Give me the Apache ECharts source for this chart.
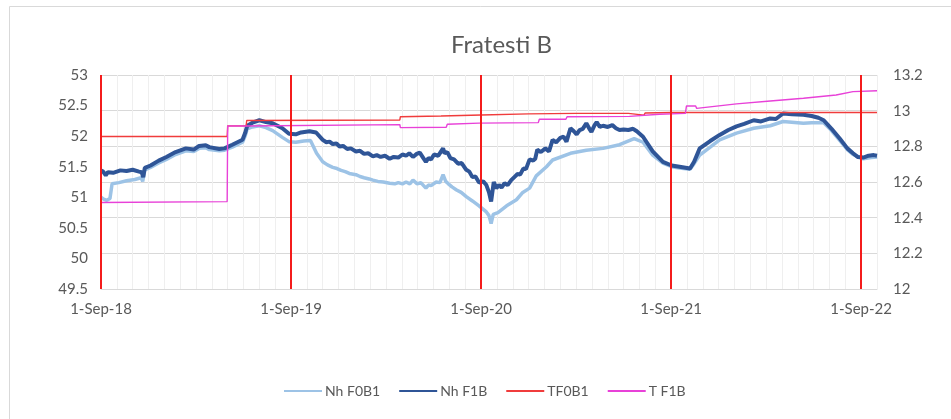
<!DOCTYPE html>
<html>
<head>
<meta charset="utf-8">
<title>Fratesti B</title>
<script src="https://cdn.jsdelivr.net/npm/echarts@6/dist/echarts.min.js"></script>
<style>
  html, body { margin: 0; padding: 0; background: #fff; }
  #chart { width: 951px; height: 419px; }
</style>
</head>
<body>
<div id="chart"></div>
<script>
// Level readings (left axis) and temperatures (right axis), by date
const nhF0B1 = [
  ['2018-09-01', 51.00], ['2018-09-06', 50.97], ['2018-09-12', 50.95], ['2018-09-18', 50.98],
  ['2018-09-22', 51.22], ['2018-10-05', 51.24], ['2018-10-20', 51.27], ['2018-11-05', 51.29],
  ['2018-11-17', 51.32], ['2018-11-20', 51.26], ['2018-11-24', 51.45], ['2018-12-05', 51.49],
  ['2018-12-21', 51.56], ['2019-01-05', 51.62], ['2019-01-23', 51.70], ['2019-02-11', 51.76],
  ['2019-02-25', 51.75], ['2019-03-07', 51.80], ['2019-03-20', 51.81], ['2019-03-27', 51.78],
  ['2019-04-15', 51.76], ['2019-04-25', 51.77], ['2019-05-10', 51.82], ['2019-05-20', 51.86],
  ['2019-05-30', 51.90], ['2019-06-04', 52.00], ['2019-06-08', 52.12], ['2019-06-18', 52.15],
  ['2019-07-01', 52.17], ['2019-07-14', 52.14], ['2019-07-27', 52.09], ['2019-08-15', 51.98],
  ['2019-08-28', 51.91], ['2019-09-10', 51.90], ['2019-09-25', 51.92], ['2019-10-08', 51.93],
  ['2019-10-20', 51.72], ['2019-11-01', 51.58], ['2019-11-10', 51.53], ['2019-11-20', 51.49],
  ['2019-11-28', 51.47], ['2019-12-06', 51.44], ['2019-12-14', 51.42], ['2019-12-22', 51.39],
  ['2020-01-04', 51.37], ['2020-01-12', 51.34], ['2020-01-20', 51.32], ['2020-01-30', 51.30],
  ['2020-02-06', 51.28], ['2020-02-15', 51.26], ['2020-02-25', 51.25], ['2020-03-08', 51.23],
  ['2020-03-18', 51.22], ['2020-03-25', 51.24], ['2020-04-02', 51.22], ['2020-04-09', 51.25],
  ['2020-04-16', 51.22], ['2020-04-22', 51.28], ['2020-04-30', 51.22], ['2020-05-07', 51.24],
  ['2020-05-17', 51.15], ['2020-05-22', 51.20], ['2020-05-27', 51.19], ['2020-06-06', 51.25],
  ['2020-06-13', 51.24], ['2020-06-19', 51.37], ['2020-06-24', 51.26], ['2020-06-29', 51.22],
  ['2020-07-06', 51.17], ['2020-07-15', 51.12], ['2020-07-24', 51.08], ['2020-08-03', 51.01],
  ['2020-08-15', 50.94], ['2020-08-28', 50.86], ['2020-09-11', 50.76], ['2020-09-16', 50.70],
  ['2020-09-20', 50.57], ['2020-09-24', 50.72], ['2020-10-03', 50.75], ['2020-10-20', 50.86],
  ['2020-11-08', 50.96], ['2020-11-20', 51.08], ['2020-12-03', 51.15], ['2020-12-16', 51.35],
  ['2021-01-05', 51.50], ['2021-01-17', 51.61], ['2021-02-19', 51.72], ['2021-03-21', 51.77],
  ['2021-04-22', 51.80], ['2021-05-24', 51.86], ['2021-06-21', 51.96], ['2021-07-08', 51.90],
  ['2021-07-27', 51.69], ['2021-08-16', 51.56], ['2021-09-02', 51.50], ['2021-09-17', 51.48],
  ['2021-10-07', 51.46], ['2021-10-15', 51.55], ['2021-10-26', 51.69], ['2021-11-15', 51.82],
  ['2021-12-03', 51.94], ['2022-01-05', 52.05], ['2022-02-07', 52.13], ['2022-03-09', 52.17],
  ['2022-04-03', 52.24], ['2022-05-12', 52.21], ['2022-05-28', 52.22], ['2022-06-20', 52.22],
  ['2022-07-05', 52.09], ['2022-07-21', 51.93], ['2022-08-05', 51.78], ['2022-08-16', 51.70],
  ['2022-09-05', 51.63], ['2022-09-20', 51.65], ['2022-10-01', 51.66]
];

const nhF1B = [
  ['2018-09-01', 51.44], ['2018-09-05', 51.42], ['2018-09-10', 51.36], ['2018-09-14', 51.41],
  ['2018-09-24', 51.40], ['2018-10-08', 51.44], ['2018-10-20', 51.43], ['2018-11-01', 51.45],
  ['2018-11-13', 51.42], ['2018-11-18', 51.41], ['2018-11-21', 51.33], ['2018-11-24', 51.48],
  ['2018-12-05', 51.52], ['2018-12-21', 51.60], ['2019-01-05', 51.66], ['2019-01-23', 51.74],
  ['2019-02-11', 51.80], ['2019-02-25', 51.78], ['2019-03-07', 51.84], ['2019-03-20', 51.85],
  ['2019-03-27', 51.82], ['2019-04-15', 51.79], ['2019-04-25', 51.80], ['2019-05-10', 51.86],
  ['2019-05-20', 51.90], ['2019-05-30', 51.94], ['2019-06-04', 52.05], ['2019-06-08', 52.17],
  ['2019-06-18', 52.22], ['2019-07-01', 52.26], ['2019-07-14', 52.23], ['2019-07-27', 52.21],
  ['2019-08-15', 52.13], ['2019-08-28', 52.04], ['2019-09-10', 52.03], ['2019-09-20', 52.06],
  ['2019-10-06', 52.08], ['2019-10-19', 52.06], ['2019-11-01', 51.94], ['2019-11-08', 51.90],
  ['2019-11-14', 51.91], ['2019-11-20', 51.87], ['2019-11-27', 51.88], ['2019-12-03', 51.83],
  ['2019-12-10', 51.84], ['2019-12-18', 51.79], ['2019-12-25', 51.80], ['2020-01-04', 51.75],
  ['2020-01-12', 51.76], ['2020-01-20', 51.71], ['2020-01-28', 51.72], ['2020-02-06', 51.67],
  ['2020-02-13', 51.69], ['2020-02-20', 51.66], ['2020-02-28', 51.68], ['2020-03-08', 51.63],
  ['2020-03-16', 51.66], ['2020-03-25', 51.65], ['2020-04-02', 51.70], ['2020-04-09', 51.68],
  ['2020-04-15', 51.72], ['2020-04-22', 51.66], ['2020-04-29', 51.71], ['2020-05-05', 51.73],
  ['2020-05-12', 51.64], ['2020-05-17', 51.58], ['2020-05-22', 51.64], ['2020-05-27', 51.62],
  ['2020-06-02', 51.70], ['2020-06-10', 51.68], ['2020-06-19', 51.80], ['2020-06-22', 51.72],
  ['2020-06-27', 51.74], ['2020-07-03', 51.64], ['2020-07-10', 51.62], ['2020-07-18', 51.55],
  ['2020-07-25', 51.56], ['2020-08-03', 51.45], ['2020-08-09', 51.42], ['2020-08-15', 51.33],
  ['2020-08-21', 51.34], ['2020-08-28', 51.24], ['2020-09-05', 51.26], ['2020-09-11', 51.20],
  ['2020-09-16', 51.08], ['2020-09-20', 50.93], ['2020-09-25', 51.25], ['2020-09-30', 51.15],
  ['2020-10-05', 51.20], ['2020-10-10', 51.16], ['2020-10-16', 51.23], ['2020-10-22', 51.20],
  ['2020-10-29', 51.28], ['2020-11-04', 51.33], ['2020-11-10', 51.38], ['2020-11-15', 51.37],
  ['2020-11-21', 51.47], ['2020-11-26', 51.46], ['2020-12-03', 51.62], ['2020-12-10', 51.60],
  ['2020-12-14', 51.63], ['2020-12-18', 51.78], ['2020-12-25', 51.74], ['2021-01-03', 51.80],
  ['2021-01-10', 51.75], ['2021-01-17', 51.94], ['2021-01-24', 51.90], ['2021-02-01', 51.97],
  ['2021-02-07', 51.99], ['2021-02-12', 51.91], ['2021-02-19', 52.13], ['2021-02-25', 52.08],
  ['2021-03-02', 52.03], ['2021-03-08', 52.10], ['2021-03-14', 52.12], ['2021-03-21', 52.21],
  ['2021-03-27', 52.12], ['2021-03-31', 52.07], ['2021-04-06', 52.18], ['2021-04-10', 52.23],
  ['2021-04-16', 52.15], ['2021-04-22', 52.17], ['2021-05-01', 52.15], ['2021-05-10', 52.18],
  ['2021-05-17', 52.13], ['2021-05-24', 52.10], ['2021-06-01', 52.11], ['2021-06-10', 52.10],
  ['2021-06-19', 52.12], ['2021-06-26', 52.08], ['2021-07-08', 51.99], ['2021-07-27', 51.75],
  ['2021-08-16', 51.58], ['2021-09-02', 51.52], ['2021-09-17', 51.50], ['2021-10-07', 51.47],
  ['2021-10-15', 51.58], ['2021-10-26', 51.80], ['2021-11-15', 51.92], ['2021-12-03', 52.02],
  ['2021-12-20', 52.10], ['2022-01-05', 52.16], ['2022-01-20', 52.20], ['2022-02-07', 52.26],
  ['2022-02-20', 52.24], ['2022-03-09', 52.29], ['2022-03-20', 52.28], ['2022-04-03', 52.37],
  ['2022-04-20', 52.36], ['2022-05-12', 52.35], ['2022-05-28', 52.33], ['2022-06-10', 52.30],
  ['2022-06-20', 52.26], ['2022-07-05', 52.12], ['2022-07-21', 51.96], ['2022-08-05', 51.80],
  ['2022-08-16', 51.72], ['2022-08-25', 51.66], ['2022-09-05', 51.65], ['2022-09-15', 51.68],
  ['2022-09-25', 51.69], ['2022-10-01', 51.68]
];

const tF0B1 = [
  ['2018-09-01', 12.855], ['2019-04-30', 12.855], ['2019-05-01', 12.915], ['2019-06-06', 12.915],
  ['2019-06-07', 12.945], ['2020-03-28', 12.948], ['2020-03-29', 12.966], ['2020-06-15', 12.970],
  ['2020-09-01', 12.976], ['2020-12-01', 12.982], ['2021-03-01', 12.985], ['2021-06-10', 12.985],
  ['2021-06-12', 12.975], ['2021-07-10', 12.975], ['2021-07-12', 12.987], ['2021-09-01', 12.990],
  ['2022-10-01', 12.990]
];

const tF1B = [
  ['2018-09-01', 12.485], ['2019-04-30', 12.490], ['2019-05-01', 12.914], ['2019-06-06', 12.914],
  ['2019-06-07', 12.922], ['2020-03-28', 12.922], ['2020-03-29', 12.905], ['2020-06-25', 12.907],
  ['2020-06-27', 12.924], ['2020-08-28', 12.930], ['2020-12-20', 12.933], ['2020-12-22', 12.952],
  ['2021-02-11', 12.952], ['2021-02-13', 12.966], ['2021-06-12', 12.968], ['2021-08-09', 12.980],
  ['2021-09-28', 12.985], ['2021-09-30', 13.026], ['2021-10-18', 13.026], ['2021-10-20', 13.013],
  ['2022-01-05', 13.038], ['2022-03-09', 13.054], ['2022-05-12', 13.070], ['2022-07-14', 13.088],
  ['2022-08-16', 13.107], ['2022-10-01', 13.112]
];

const seriesNames = ['Nh F0B1', 'Nh F1B', 'TF0B1', 'T F1B'];
const yearMarks = ['2018-09-01', '2019-09-01', '2020-09-01', '2021-09-01', '2022-09-01'];
const axisStart = '2018-09-01';
const axisEnd = '2022-10-01';

// Dates are placed on a month scale counted from the start of the axis,
// so monthly gridlines and yearly marks fall on whole numbers.
function toMonths(s) {
  const [y, m, d] = s.split('-').map(Number);
  const [y0, m0] = axisStart.split('-').map(Number);
  const dim = new Date(y, m, 0).getDate();
  return (y - y0) * 12 + (m - m0) + (d - 1) / dim;
}
function conv(arr) { return arr.map(p => [toMonths(p[0]), p[1]]); }

const FONT = 'Lato';
const TXT = '#595959';

const chart = echarts.init(document.getElementById('chart'), null, { renderer: 'canvas' });

const xMin = toMonths(axisStart);
const xMax = toMonths(axisEnd);

chart.setOption({
  animation: false,
  backgroundColor: '#fff',
  textStyle: { fontFamily: FONT },
  title: {
    text: 'Fratesti B',
    left: 446,
    top: 28,
    textStyle: { fontFamily: FONT, fontSize: 24, fontWeight: 'normal', color: TXT }
  },
  graphic: [
    { type: 'line', shape: { x1: 9.5, y1: 6.5, x2: 9.5, y2: 419 }, style: { stroke: '#d9d9d9', lineWidth: 1 }, silent: true },
    { type: 'line', shape: { x1: 9.5, y1: 6.5, x2: 951, y2: 6.5 }, style: { stroke: '#d9d9d9', lineWidth: 1 }, silent: true }
  ],
  legend: {
    data: seriesNames,
    left: 278,
    top: 379,
    itemWidth: 38,
    itemHeight: 1,
    itemGap: 18,
    textStyle: { fontFamily: FONT, fontSize: 14, color: TXT, padding: [0, 0, 0, -2] }
  },
  grid: { left: 101, right: 74, top: 75, bottom: 130, containLabel: false },
  xAxis: [
    {
      // monthly gridlines
      type: 'value', min: xMin, max: xMax, interval: 1,
      axisLine: { show: false }, axisTick: { show: false }, axisLabel: { show: false },
      splitLine: { show: true, lineStyle: { color: '#efefef', width: 1 } }
    },
    {
      // yearly labels
      type: 'value', min: xMin, max: xMax, interval: 12, position: 'bottom',
      axisLine: { show: true, lineStyle: { color: '#d9d9d9' } },
      axisTick: { show: false },
      splitLine: { show: false },
      axisLabel: {
        margin: 13, fontFamily: FONT, fontSize: 15, color: TXT,
        showMaxLabel: false,
        formatter: v => {
          if (Math.abs(v % 12) > 1e-6) return '';
          return '1-Sep-' + (18 + Math.round(v / 12));
        }
      }
    }
  ],
  yAxis: [
    {
      type: 'value', min: 49.5, max: 53, interval: 0.5,
      axisLine: { show: false }, axisTick: { show: false },
      splitLine: { show: false },
      axisLabel: { margin: 13, fontFamily: FONT, fontSize: 15, color: TXT }
    },
    {
      type: 'value', min: 12, max: 13.2, interval: 0.2, position: 'right',
      axisLine: { show: false }, axisTick: { show: false },
      splitLine: { show: true, lineStyle: { color: '#d9d9d9', width: 1 } },
      axisLabel: { margin: 16, fontFamily: FONT, fontSize: 15, color: TXT,
        formatter: v => String(Math.round(v * 10) / 10) }
    }
  ],
  series: [
    {
      name: seriesNames[0], type: 'line', xAxisIndex: 1, yAxisIndex: 0,
      data: conv(nhF0B1), symbol: 'none',
      lineStyle: { color: '#9dc3e6', width: 3.5 }, itemStyle: { color: '#9dc3e6' },
      markLine: {
        silent: true, symbol: 'none', label: { show: false },
        lineStyle: { color: '#f41c1c', width: 2, type: 'solid' },
        data: yearMarks.map(d => ({ xAxis: toMonths(d) }))
      }
    },
    {
      name: seriesNames[1], type: 'line', xAxisIndex: 1, yAxisIndex: 0,
      data: conv(nhF1B), symbol: 'none',
      lineStyle: { color: '#2f5597', width: 4 }, itemStyle: { color: '#2f5597' }
    },
    {
      name: seriesNames[2], type: 'line', xAxisIndex: 1, yAxisIndex: 1,
      data: conv(tF0B1), symbol: 'none',
      lineStyle: { color: '#f03c3c', width: 1.4 }, itemStyle: { color: '#f03c3c' }
    },
    {
      name: seriesNames[3], type: 'line', xAxisIndex: 1, yAxisIndex: 1,
      data: conv(tF1B), symbol: 'none',
      lineStyle: { color: '#e841d8', width: 1.4 }, itemStyle: { color: '#e841d8' }
    }
  ]
});
</script>
</body>
</html>
